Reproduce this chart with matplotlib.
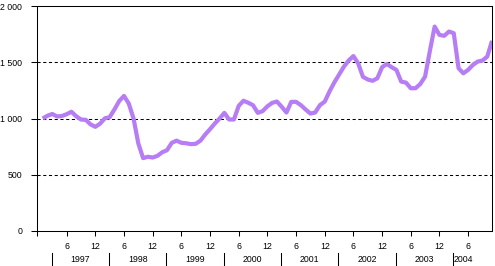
import matplotlib.pyplot as plt
import matplotlib.transforms as mtransforms

# monthly values, Jan 1997 .. Nov 2004
values = [1000, 1025, 1040, 1018, 1022, 1038, 1060, 1020, 991, 988, 948, 926,
          954, 1002, 1012, 1080, 1155, 1201, 1133, 1000, 778, 648, 660, 653,
          668, 700, 718, 784, 803, 784, 780, 772, 775, 803, 858, 905,
          955, 1000, 1050, 991, 991, 1112, 1158, 1140, 1118, 1050, 1065, 1108,
          1139, 1151, 1104, 1053, 1148, 1148, 1119, 1080, 1044, 1053, 1119, 1150,
          1240, 1320, 1390, 1460, 1515, 1555, 1490, 1370, 1347, 1335, 1357, 1456,
          1485, 1456, 1432, 1328, 1319, 1269, 1269, 1307, 1373, 1600, 1817, 1743,
          1735, 1773, 1758, 1447, 1402, 1432, 1476, 1506, 1515, 1550, 1690]
years = ["1997", "1998", "1999", "2000", "2001", "2002", "2003", "2004"]
month_labels = ["6", "12"]
y_ticks = [0, 500, 1000, 1500, 2000]
y_labels = ["0", "500", "1 000", "1 500", "2 000"]

plt.rcParams['font.family'] = ['Liberation Sans', 'DejaVu Sans']

fig = plt.figure(figsize=(4.95, 2.66), dpi=100)
ax = fig.add_axes([37/495, 35/266, 455/495, 225/266])

x = list(range(len(values)))
ax.plot(x, values, color='#b67df5', lw=3, solid_capstyle='butt', zorder=3, clip_on=True)

ax.set_xlim(-1.2, 94.0)
ax.set_ylim(0, 2000)

for v in y_ticks[1:-1]:
    ax.axhline(v, color='black', lw=0.75, linestyle=(0, (3, 2.5)), zorder=1)

ax.set_yticks(y_ticks)
ax.set_yticklabels(y_labels, fontsize=6.3)
ax.tick_params(axis='y', direction='out', length=4.3, width=0.75, pad=6.5)

# month ticks (June and December of each year)
mt = []
ml = []
for k in range(len(years)):
    for j, lab in enumerate(month_labels):
        m = 5 + 6 * j + 12 * k
        if m <= 94:
            mt.append(m)
            ml.append(lab)
ax.set_xticks([-1.2] + mt)
ax.set_xticklabels([""] + ml, fontsize=6.3)
ax.tick_params(axis='x', direction='out', length=3.6, width=0.75, pad=4)

for s in ax.spines.values():
    s.set_linewidth(0.75)

# year separators and labels
trans = mtransforms.blended_transform_factory(ax.transData, ax.transAxes)
for k, yr in enumerate(years):
    sep = 1.86 + 12 * k
    ax.plot([sep, sep], [-0.098, -0.152], color='black', lw=0.75,
            transform=trans, clip_on=False)
    if k < len(years) - 1:
        ax.text(sep + 6, -0.125, yr, transform=trans, ha='center', va='center',
                fontsize=6.3)
    else:
        ax.text(sep + 0.2, -0.125, yr, transform=trans, ha='left', va='center',
                fontsize=6.3)

fig.savefig("out.png", dpi=100)
